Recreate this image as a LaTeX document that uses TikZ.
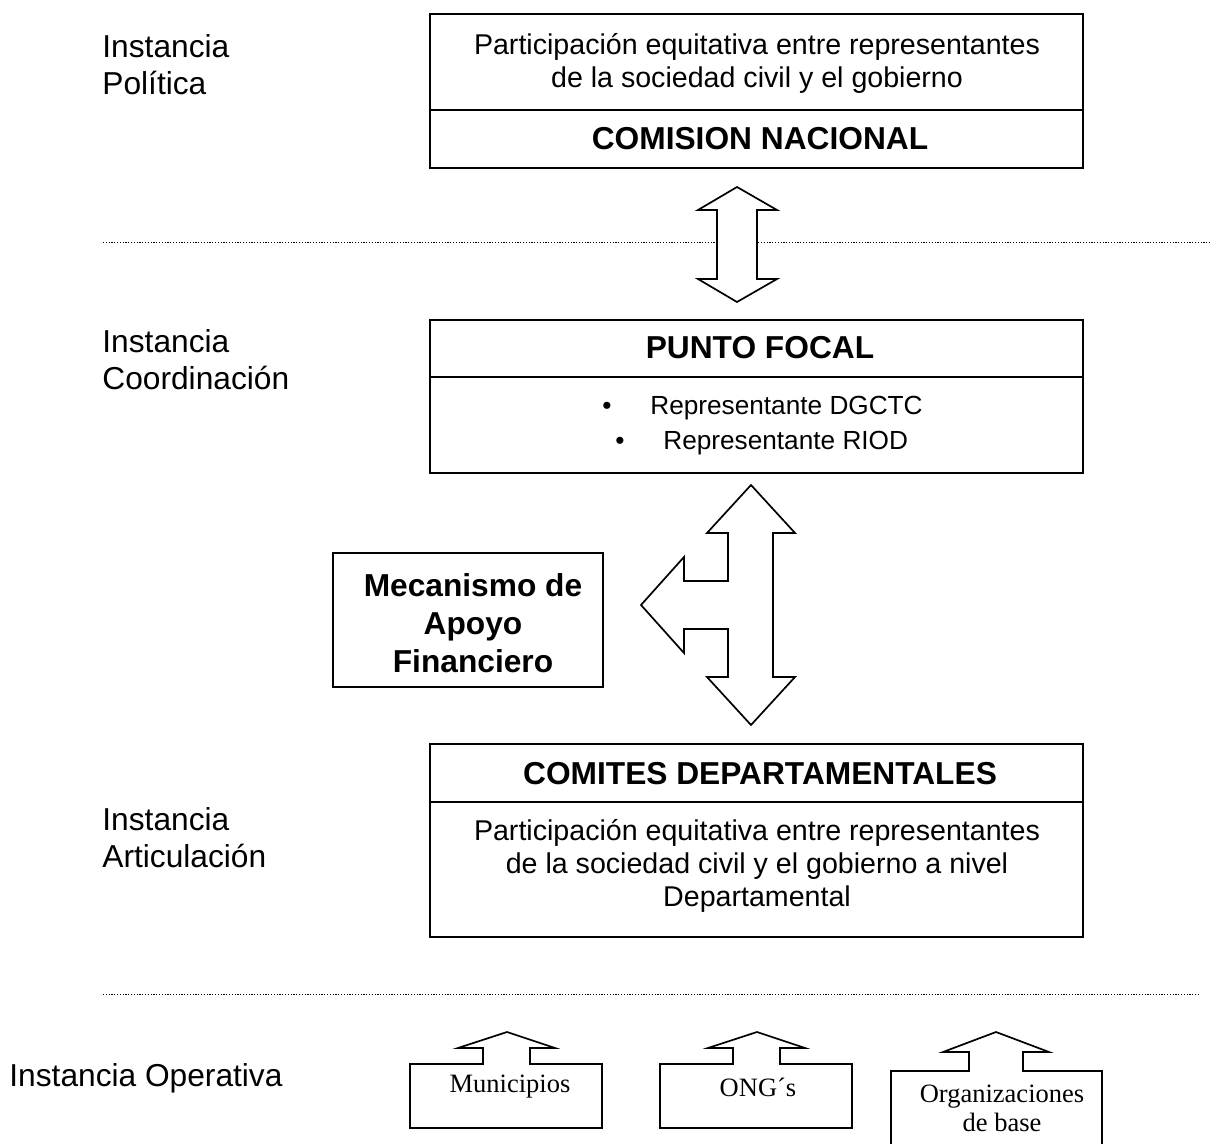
\documentclass[tikz,border=0pt]{standalone}
\usepackage{fontspec}
\setmainfont{Liberation Sans}
\newfontfamily\timesfont{Liberation Serif}
\usepackage{tikz}
\usetikzlibrary{calc}

\begin{document}
\begin{tikzpicture}[x=0.5pt,y=-0.5pt]
\tikzset{frame/.style={draw=black, line width=1pt},
  blockarrow/.style={draw=black, line width=0.85pt, line join=miter},
  sep/.style={line width=0.5pt, dash pattern=on 0.6pt off 0.8pt},
  lbl/.style={anchor=west, inner sep=0pt, align=left, font=\fontsize{15.85}{18.5}\selectfont},
  txt/.style={inner sep=0pt, align=center, font=\fontsize{14.3}{16.5}\selectfont},
  ttl/.style={inner sep=0pt, align=center, font=\bfseries\fontsize{15.85}{19}\selectfont},
  bul/.style={anchor=west, inner sep=0pt, font=\fontsize{13.1}{15}\selectfont},
  org/.style={inner sep=0pt, align=center, font=\timesfont\fontsize{13.25}{14.5}\selectfont}}
\useasboundingbox (0,0) rectangle (1210,1144);

% instancias
\node[lbl] (pol) at (102,65) {Instancia\\Política};
\node[lbl] (coord) at (102,360) {Instancia\\Coordinación};
\node[lbl] (artic) at (102,838) {Instancia\\Articulación};
\node[lbl] (oper) at (9,1078) {Instancia Operativa};

% separadores
\draw[sep] (103,243) -- (1210,243);
\draw[sep] (103,994) -- (1200,994);

% comision nacional
\draw[frame] (430,14) rectangle (1083,168);
\draw[frame] (430,110) -- (1083,110);
\node[txt] (part1) at (757,63) {Participación equitativa entre representantes\\de la sociedad civil y el gobierno};
\node[ttl] (comision) at (760,139) {COMISION NACIONAL};

\draw[blockarrow,fill=white] (737,187) -- (777,210) -- (757,210) -- (757,279) -- (777,279) -- (737,302)
  -- (698,279) -- (717,279) -- (717,210) -- (698,210) -- cycle;

% punto focal
\draw[frame] (430,320) rectangle (1083,473);
\draw[frame] (430,377) -- (1083,377);
\node[ttl] (focal) at (760,348) {PUNTO FOCAL};
\node[bul] (dgctc) at (602,408) {\makebox[24pt][l]{\textbullet}Representante DGCTC};
\node[bul] (riod) at (615,443) {\makebox[24pt][l]{\textbullet}Representante RIOD};

\draw[blockarrow] (751,485) -- (795,533) -- (773,533) -- (773,677) -- (795,677) -- (751,725)
  -- (707,677) -- (728,677) -- (728,629) -- (684,629) -- (684,653) -- (641,605) -- (684,557)
  -- (684,581) -- (728,581) -- (728,533) -- (707,533) -- cycle;

% mecanismo
\draw[frame] (333,553) rectangle (603,687);
\node[ttl] (mec) at (473,623) {Mecanismo de\\Apoyo\\Financiero};

% comites
\draw[frame] (430,744) rectangle (1083,937);
\draw[frame] (430,802) -- (1083,802);
\node[ttl] (comites) at (760,774) {COMITES DEPARTAMENTALES};
\node[txt] (part2) at (757,866) {Participación equitativa entre representantes\\de la sociedad civil y el gobierno a nivel\\Departamental};

% operativa
\draw[blockarrow] (410,1128) -- (410,1064) -- (483,1064) -- (483,1048) -- (458,1048) -- (507,1032)
  -- (555,1048) -- (530,1048) -- (530,1064) -- (602,1064) -- (602,1128) -- cycle;
\node[org] (muni) at (510,1087) {Municipios};

\draw[blockarrow] (660,1128) -- (660,1064) -- (733,1064) -- (733,1048) -- (708,1048) -- (757,1032)
  -- (805,1048) -- (780,1048) -- (780,1064) -- (852,1064) -- (852,1128) -- cycle;
\node[org] (ong) at (758,1087) {ONG´s};

\draw[blockarrow] (891,1160) -- (891,1071) -- (969,1071) -- (969,1052) -- (943,1052) -- (996,1032)
  -- (1049,1052) -- (1023,1052) -- (1023,1071) -- (1102,1071) -- (1102,1160);
\node[org] (orgbase) at (1002,1108) {Organizaciones\\de base};
\end{tikzpicture}
\end{document}
